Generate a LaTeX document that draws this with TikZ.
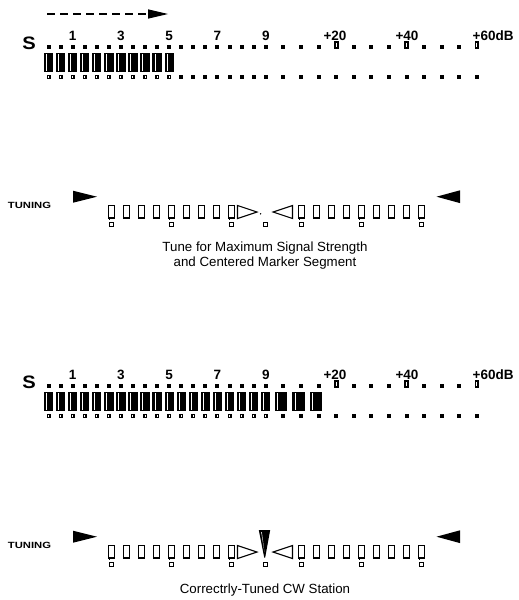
\documentclass[tikz,border=0pt]{standalone}
\usepackage{fontspec}
\setmainfont{Liberation Sans}
\begin{document}
\begin{tikzpicture}[x=1pt,y=-1pt]
\useasboundingbox[fill=white] (0,0) rectangle (519,600);
\tikzset{
  numlab/.style={inner sep=0pt,anchor=base,font=\bfseries\fontsize{13.5}{13.5}\selectfont},
  slab/.style={inner sep=0pt,anchor=base,font=\bfseries\fontsize{18}{18}\selectfont},
  tunlab/.style={inner sep=0pt,anchor=base,font=\bfseries\fontsize{9}{9}\selectfont},
  caption/.style={inner sep=0pt,anchor=base,font=\fontsize{13.3}{13.3}\selectfont},
  seg/.style={draw=black,line width=1.3pt,fill=white},
  marksq/.style={draw=black,line width=1pt,fill=white},
  hollowtri/.style={draw=black,line width=1.1pt,line join=miter,fill=white},
}
\newcommand\drawSmeter[3]{%
\begin{scope}[shift={(0,#1)}]
  \foreach \i in {0,...,18}{
    \pgfmathsetmacro\xx{48.5+\i*12.07}
    \fill (\xx-2,44.5) rectangle (\xx+2,48.5);
    \fill (\xx-2,74.8) rectangle (\xx+2,78.6);
  }
  \foreach \j in {1,...,12}{
    \pgfmathsetmacro\xx{265.8+\j*17.6}
    \fill (\xx-2,74.8) rectangle (\xx+2,78.6);
  }
  \foreach \j in {1,2,3,5,6,7,9,10,11}{
    \pgfmathsetmacro\xx{265.8+\j*17.6}
    \fill (\xx-2,44.5) rectangle (\xx+2,48.5);
  }
  \foreach \j in {4,8,12}{
    \pgfmathsetmacro\xx{265.8+\j*17.6}
    \fill (\xx-2.4,41) rectangle (\xx+2.4,48.5);
    \fill[white] (\xx-0.7,42.6) rectangle (\xx+0.1,46.8);
  }
  \foreach \i in {0,...,#2}{
    \pgfmathsetmacro\xx{48.5+\i*12.07}
    \fill (\xx-4.7,52.5) rectangle (\xx+4.7,72);
    \fill[white] (\xx-2.6,54) rectangle (\xx-2.0,70.5);
    \fill[white] (\xx-0.5,75.8) rectangle (\xx+0.3,77.6);
  }
  \ifnum#3>0
  \foreach \j in {1,...,#3}{
    \pgfmathsetmacro\xx{265.8+\j*17.6-2.5}
    \fill (\xx-6.3,52.5) rectangle (\xx+6.3,72);
    \fill[white] (\xx-3.9,54) rectangle (\xx-3.3,70.5);
  }
  \fi
\end{scope}}
\newcommand\drawTuning[2]{%
\begin{scope}[shift={(0,#1)}]
  \fill (73,190.7) -- (97,196.7) -- (73,202.7) -- cycle;
  \fill (460,190.3) -- (436.5,196.7) -- (460,203.1) -- cycle;
  \foreach \k in {0,...,8}{
    \pgfmathsetmacro\xa{111.7+15*\k}
    \pgfmathsetmacro\xb{301.7+15*\k}
    \draw[seg] (\xa-3,205.5) rectangle (\xa+3,218);
    \draw[seg] (\xb-3,205.5) rectangle (\xb+3,218);
  }
  \foreach \k in {0,4,8}{
    \pgfmathsetmacro\xa{111.7+15*\k}
    \pgfmathsetmacro\xb{301.7+15*\k}
    \draw[line width=0.9pt] (\xa-2.4,218) -- (\xa-2.4,220);
    \draw[line width=0.9pt] (\xb-2.4,218) -- (\xb-2.4,220);
    \draw[marksq] (\xa-2,222) rectangle (\xa+2,226);
    \draw[marksq] (\xb-2,222) rectangle (\xb+2,226);
  }
  \draw[marksq] (263,222) rectangle (267,226);
  \draw[hollowtri] (237.5,205.5) -- (257,212) -- (237.5,218.5) -- cycle;
  \draw[hollowtri] (292.5,205.5) -- (273,212) -- (292.5,218.5) -- cycle;
  \ifnum#2=1
    \fill (258.8,190) -- (270.2,190) -- (265.2,217.5) -- (264.2,217.5) -- cycle;
    \fill[white] (261.2,192) -- (261.8,192) -- (264.4,212) -- cycle;
  \else
    \fill (260.6,213.8) circle (0.8);
  \fi
\end{scope}}

% ---- top meter ----
\drawSmeter{0}{10}{0}
\coordinate (arrS) at (47,14);
\coordinate (arrE) at (148,14);
\draw[line width=2.6pt,dash pattern=on 8pt off 5pt] (arrS) -- (arrE);
\fill (148,9.3) -- (168,14) -- (148,18.7) -- cycle;
\node[slab] (S1) at (29,49.5) {\scalebox{1.12}[1]{S}};
\node[numlab] (a1) at (72.6,40) {1};
\node[numlab] (a3) at (120.9,40) {3};
\node[numlab] (a5) at (169.2,40) {5};
\node[numlab] (a7) at (217.5,40) {7};
\node[numlab] (a9) at (265.8,40) {9};
\node[numlab] (a20) at (335,40) {+20};
\node[numlab] (a40) at (407,40) {+40};
\node[numlab,anchor=base west] (a60) at (472.5,40) {+60dB};

% ---- first tuning display ----
\drawTuning{0}{0}
\node[tunlab] (t1) at (29.5,208.3) {\scalebox{1.25}[1]{TUNING}};
\node[caption] (c1) at (265,251) {Tune for Maximum Signal Strength};
\node[caption] (c2) at (265,266) {and Centered Marker Segment};

% ---- second meter ----
\drawSmeter{339}{18}{3}
\node[slab] (S2) at (29,388.5) {\scalebox{1.12}[1]{S}};
\node[numlab] (b1) at (72.6,379) {1};
\node[numlab] (b3) at (120.9,379) {3};
\node[numlab] (b5) at (169.2,379) {5};
\node[numlab] (b7) at (217.5,379) {7};
\node[numlab] (b9) at (265.8,379) {9};
\node[numlab] (b20) at (335,379) {+20};
\node[numlab] (b40) at (407,379) {+40};
\node[numlab,anchor=base west] (b60) at (472.5,379) {+60dB};

% ---- second tuning display ----
\drawTuning{340}{1}
\node[tunlab] (t2) at (29.5,548.3) {\scalebox{1.25}[1]{TUNING}};
\node[caption] (c3) at (265,593) {Correctrly-Tuned CW Station};
\end{tikzpicture}
\end{document}
